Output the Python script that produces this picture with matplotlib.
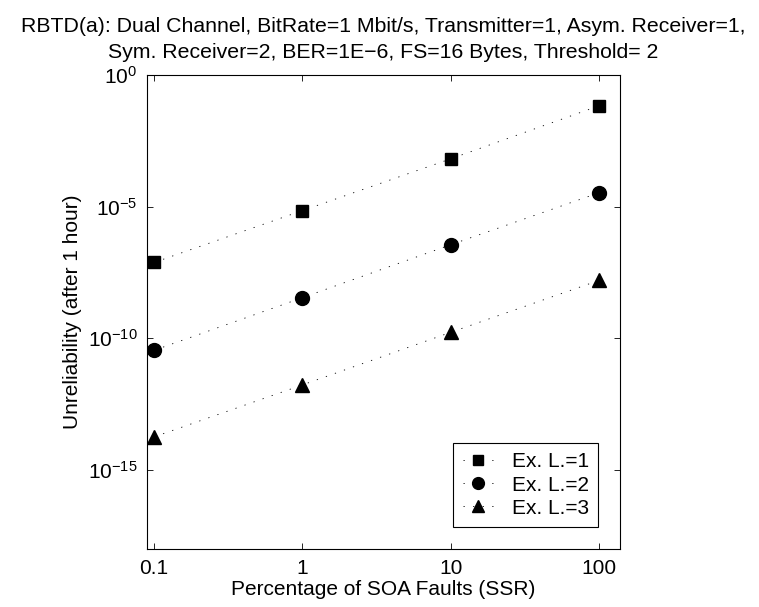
import matplotlib
matplotlib.use("Agg")
import matplotlib.pyplot as plt
import numpy as np

plt.rcParams['font.family'] = ['Liberation Sans', 'DejaVu Sans']
plt.rcParams['mathtext.fontset'] = 'custom'
plt.rcParams['mathtext.rm'] = 'Liberation Sans'
plt.rcParams['mathtext.it'] = 'Liberation Sans:italic'
plt.rcParams['mathtext.bf'] = 'Liberation Sans:bold'

x_values = [0.1, 1, 10, 100]
series_labels = ['Ex. L.=1', 'Ex. L.=2', 'Ex. L.=3']
series_l1 = [7.6e-8, 7.1e-6, 6.6e-4, 6.8e-2]
series_l2 = [3.5e-11, 3.5e-9, 3.6e-7, 3.4e-5]
series_l3 = [1.8e-14, 1.7e-12, 1.7e-10, 1.6e-8]
x_ticks = [0.1, 1, 10, 100]
x_tick_labels = ['0.1', '1', '10', '100']
y_ticks = [1e-15, 1e-10, 1e-5, 1e0]
y_tick_labels = [r'$10^{-15}$', r'$10^{-10}$', r'$10^{-5}$', r'$10^{0}$']

title = ('RBTD(a): Dual Channel, BitRate=1 Mbit/s, Transmitter=1, Asym. Receiver=1,\n'
         'Sym. Receiver=2, BER=1E\u22126, FS=16 Bytes, Threshold= 2')

FS = 15

fig = plt.figure(figsize=(7.59, 6.07), dpi=100)
ax = fig.add_axes([0.1937, 0.0956, 0.6232, 0.7808])

markers = ['s', 'o', '^']
sizes = [9, 10, 10]
for ys, lab, m, ms in zip([series_l1, series_l2, series_l3], series_labels, markers, sizes):
    ax.plot(x_values, ys, linestyle=(0, (1.5, 10)), color='black', linewidth=0.6,
            marker=m, markersize=ms, markerfacecolor='black', markeredgecolor='black',
            label=lab)

ax.set_xscale('log')
ax.set_yscale('log')
ax.set_xlim(0.0897, 138)
ax.set_ylim(1e-18, 1)
ax.set_xticks(x_ticks)
ax.set_xticklabels(x_tick_labels)
ax.set_yticks(y_ticks)
ax.set_yticklabels(y_tick_labels)
ax.minorticks_off()
ax.tick_params(which='both', direction='in', top=True, right=True, length=4,
               width=0.6, labelsize=FS, pad=7)
for s in ax.spines.values():
    s.set_linewidth(0.8)

ax.set_xlabel('Percentage of SOA Faults (SSR)', fontsize=FS, labelpad=2)
ax.set_ylabel('Unreliability (after 1 hour)', fontsize=FS, labelpad=4)
ax.set_title(title, fontsize=15.3, pad=12, linespacing=1.5)

leg = ax.legend(loc='lower right', fontsize=FS, frameon=True, fancybox=False,
                edgecolor='black', framealpha=1, borderpad=0.45, labelspacing=0.2,
                handlelength=1.45, handletextpad=0.9, borderaxespad=1.05,
                markerscale=0.85)
leg.get_frame().set_linewidth(0.8)

fig.savefig('out.png', dpi=100)
